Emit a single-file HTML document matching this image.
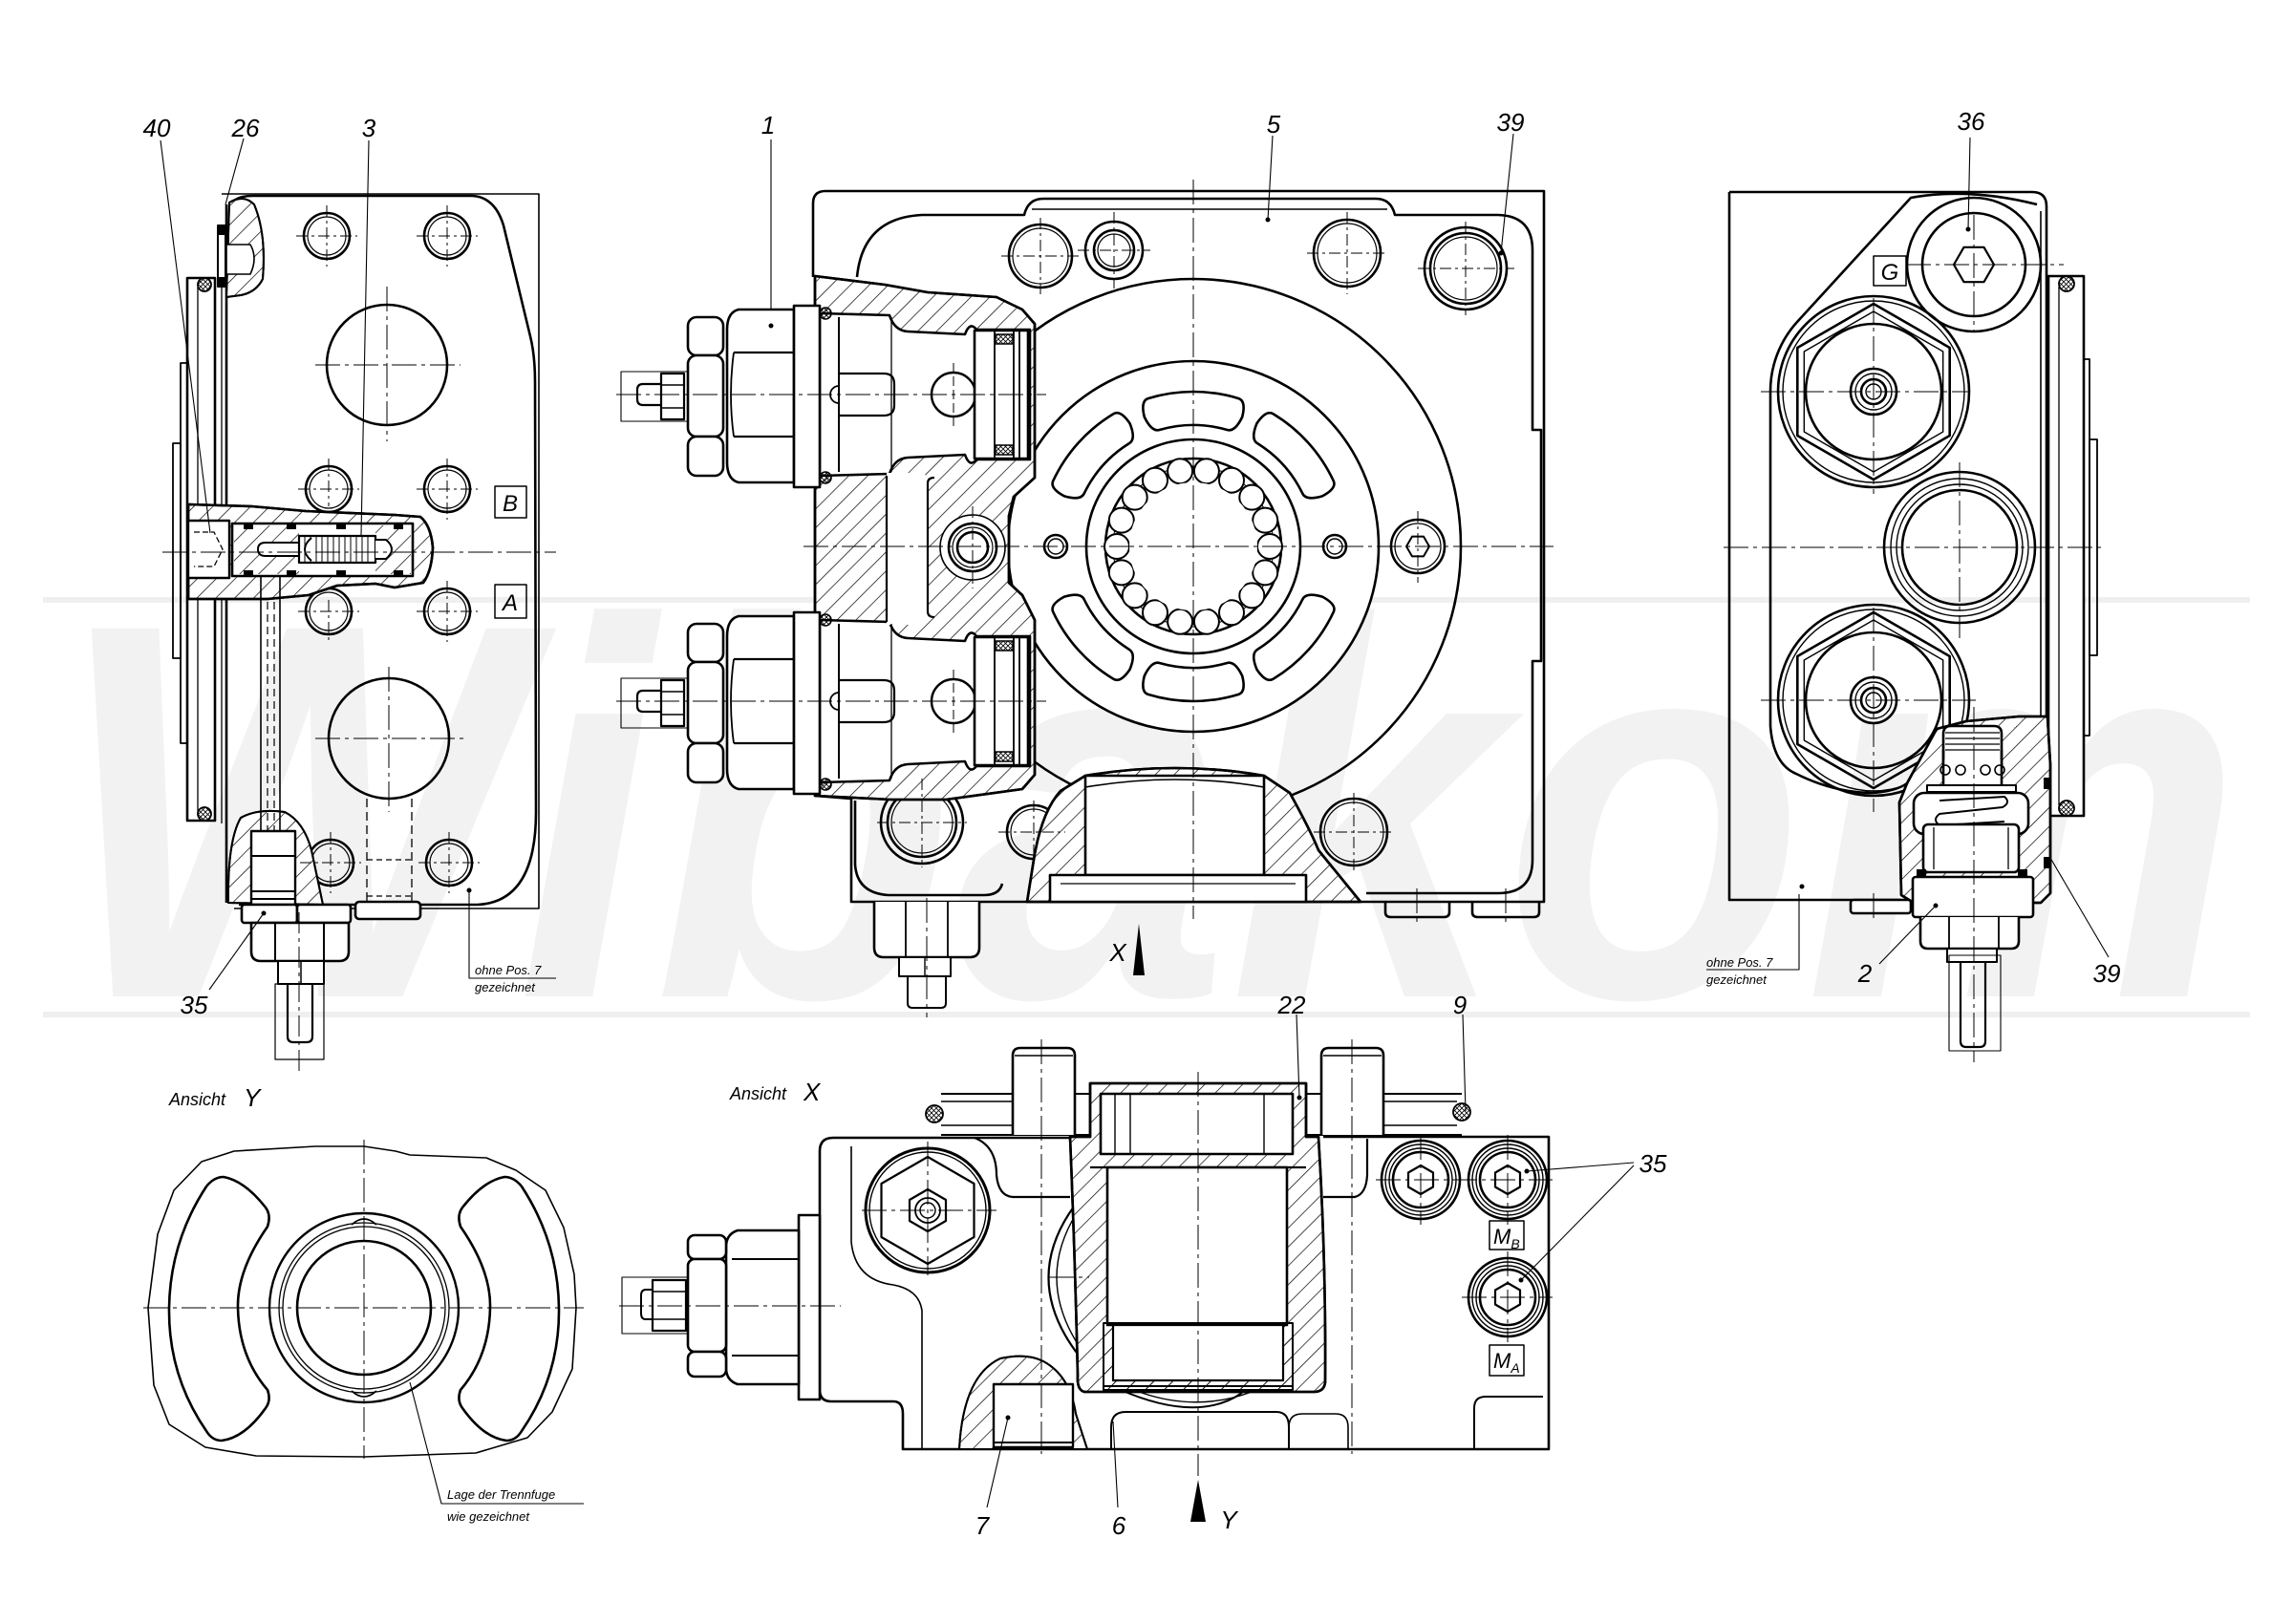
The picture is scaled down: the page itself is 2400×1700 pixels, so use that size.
<!DOCTYPE html>
<html><head><meta charset="utf-8"><style>
html,body{margin:0;padding:0;background:#fff;}
svg{display:block;}
text{font-family:"Liberation Sans",sans-serif;font-style:italic;fill:#000;stroke:none;}
.l{font-size:26px;}
.s{font-size:13px;}
</style></head><body>
<svg width="2400" height="1700" viewBox="0 0 2400 1700" xmlns="http://www.w3.org/2000/svg">
<defs>
<pattern id="h" patternUnits="userSpaceOnUse" width="14" height="14" patternTransform="rotate(45)"><line x1="0" y1="0" x2="0" y2="14" stroke="#000" stroke-width="1.4"/></pattern>
<pattern id="x" patternUnits="userSpaceOnUse" width="5" height="5"><path d="M0,0 L5,5 M5,0 L0,5" stroke="#000" stroke-width="0.8"/></pattern>
<g id="valve" fill="none" stroke="#000" stroke-linejoin="round">
<rect x="650" y="389" width="70" height="52" stroke-width="1.1"/>
<path d="M692,402 H673 Q667,402 667,408 V418 Q667,424 673,424 H692" stroke-width="2.2"/>
<rect x="692" y="391" width="24" height="48" fill="#fff" stroke-width="2.2"/>
<path d="M692,403 H716 M692,427 H716" stroke-width="1.6"/>
<rect x="720" y="332" width="37" height="40" rx="9" fill="#fff" stroke-width="2.6"/>
<rect x="720" y="372" width="37" height="85" rx="9" fill="#fff" stroke-width="2.6"/>
<rect x="720" y="457" width="37" height="41" rx="9" fill="#fff" stroke-width="2.6"/>
<path d="M831,324 H773 Q761,327 761,345 V484 Q761,502 773,505 H831 Z" fill="#fff" stroke-width="2.6"/>
<path d="M768,369 H831 M768,457 H831" stroke-width="2.2"/>
<path d="M768,369 Q762,413 768,457" stroke-width="1.8"/>
<rect x="831" y="320" width="27" height="190" fill="#fff" stroke-width="2.6"/>
<circle cx="864" cy="328" r="6" fill="url(#x)" stroke-width="1.6"/>
<circle cx="864" cy="500" r="6" fill="url(#x)" stroke-width="1.6"/>
<line x1="878" y1="332" x2="878" y2="494" stroke-width="2"/>
<path d="M878,391 H925 Q936,391 936,402 V424 Q936,435 925,435 H878" stroke-width="2.2"/>
<path d="M878,404 A9,9 0 0 0 878,422" stroke-width="1.8"/>
<line x1="933" y1="332" x2="933" y2="494" stroke-width="1.3"/>
<circle cx="998" cy="413" r="23" stroke-width="2.4"/>
<rect x="1020" y="346" width="56" height="134" fill="#fff" stroke-width="2.6"/>
<path d="M1041,346 V480 M1061,346 V480 M1067,346 V480" stroke-width="1.8"/>
<rect x="1042" y="350" width="18" height="10" fill="url(#x)" stroke-width="1.4"/>
<rect x="1042" y="466" width="18" height="10" fill="url(#x)" stroke-width="1.4"/>
<line x1="645" y1="413" x2="1095" y2="413" stroke-width="1" stroke-dasharray="26 5 4 5"/>
<line x1="998" y1="380" x2="998" y2="448" stroke-width="1" stroke-dasharray="10 4"/>
</g>
<path id="cav" d="M858,328 L931,330 Q936,346 950,347 L1010,350 Q1015,336 1022,345 L1078,345 L1078,481 L1022,481 Q1015,490 1010,476 L950,479 Q936,480 931,496 L858,498 Z"/>
<path id="kid" d="M1201.6,417.1 A162,162 0 0 1 1296.4,417.1 Q1304.4,419.8 1300.2,436.5 Q1292.4,452.7 1284,449.9 A127,127 0 0 0 1214,449.9 Q1205.6,452.7 1197.8,436.5 Q1193.6,419.8 1201.6,417.1 Z"/>
</defs>
<rect width="2400" height="1700" fill="#fff"/>

<!-- watermark -->
<line x1="45" y1="628" x2="2355" y2="628" stroke="#efefef" stroke-width="6"/>
<line x1="45" y1="1062" x2="2355" y2="1062" stroke="#efefef" stroke-width="6"/>
<text x="58" y="1043" font-size="560" font-weight="bold" textLength="2290" lengthAdjust="spacingAndGlyphs" style="fill:#f2f2f2">Wibakom</text>

<!-- ================= LEFT VIEW ================= -->
<g fill="none" stroke="#000" stroke-width="2.6" stroke-linejoin="round">
<path d="M232,203 H564 V951 H245" stroke-width="1.6"/>
<path d="M240,216 Q246,205 264,205 L494,205 Q518,206 527,236 L555,352 Q560,372 560,400 L561,850 Q561,944 500,947 L250,947"/>
<line x1="237" y1="214" x2="237" y2="945"/>
<line x1="232" y1="290" x2="232" y2="862" stroke-width="1.3"/>
<rect x="196" y="291" width="29" height="568" fill="#fff"/>
<line x1="207" y1="300" x2="207" y2="850" stroke-width="1.3"/>
<rect x="189" y="380" width="7" height="398" stroke-width="1.8"/>
<rect x="181" y="464" width="8" height="225" stroke-width="1.8"/>
<circle cx="214" cy="298" r="7" fill="url(#x)" stroke-width="1.8"/>
<circle cx="214" cy="852" r="7" fill="url(#x)" stroke-width="1.8"/>
<path d="M240,212 Q255,203 266,214 Q279,245 275,292 Q268,306 252,309 L237,311 Z" fill="#fff" stroke-width="2"/>
<path d="M240,212 Q255,203 266,214 Q279,245 275,292 Q268,306 252,309 L237,311 Z" fill="url(#h)" stroke-width="2"/>
<path d="M237,256 L262,256 Q270,270 262,287 L237,287 Z" fill="#fff" stroke-width="1.6"/>
<rect x="228" y="236" width="8" height="64" fill="#fff" stroke-width="2"/>
<rect x="228" y="236" width="8" height="10" fill="#000" stroke="none"/>
<rect x="228" y="290" width="8" height="10" fill="#000" stroke="none"/>
<circle cx="342" cy="247" r="24"/><circle cx="342" cy="247" r="20" stroke-width="1.2"/>
<circle cx="468" cy="247" r="24"/><circle cx="468" cy="247" r="20" stroke-width="1.2"/>
<circle cx="344" cy="512" r="24"/><circle cx="344" cy="512" r="20" stroke-width="1.2"/>
<circle cx="468" cy="512" r="24"/><circle cx="468" cy="512" r="20" stroke-width="1.2"/>
<circle cx="344" cy="640" r="24"/><circle cx="344" cy="640" r="20" stroke-width="1.2"/>
<circle cx="468" cy="640" r="24"/><circle cx="468" cy="640" r="20" stroke-width="1.2"/>
<circle cx="346" cy="903" r="24"/><circle cx="346" cy="903" r="20" stroke-width="1.2"/>
<circle cx="470" cy="903" r="24"/><circle cx="470" cy="903" r="20" stroke-width="1.2"/>
<circle cx="405" cy="382" r="63"/>
<circle cx="407" cy="773" r="63"/>
<path d="M384,836 V944 M431,836 V944" stroke-width="1.3" stroke-dasharray="9 5"/>
<path d="M384,900 H431 M384,938 H431" stroke-width="1.3" stroke-dasharray="6 4"/>
<path d="M239,945 Q238,880 252,856 Q270,846 298,850 Q318,860 326,890 L338,947 Z" fill="#fff" stroke-width="2"/>
<path d="M239,945 Q238,880 252,856 Q270,846 298,850 Q318,860 326,890 L338,947 Z" fill="url(#h)" stroke-width="2"/>
<rect x="263" y="870" width="46" height="77" fill="#fff" stroke-width="2.4"/>
<path d="M263,896 H309 M263,933 H309 M263,941 H309" stroke-width="2"/>
<rect x="253" y="947" width="58" height="19" rx="3" fill="#fff"/>
<rect x="311" y="947" width="56" height="19" rx="3" fill="#fff"/>
<rect x="372" y="944" width="68" height="18" rx="4" fill="#fff"/>
<path d="M263,966 H365 V996 Q365,1006 355,1006 H273 Q263,1006 263,996 Z" fill="#fff"/>
<path d="M288,966 V1006 M339,966 V1006" stroke-width="2"/>
<rect x="291" y="1006" width="48" height="24" fill="#fff" stroke-width="2"/>
<path d="M315,1006 V1030" stroke-width="1.5"/>
<rect x="288" y="1030" width="51" height="79" stroke-width="1.2"/>
<path d="M301,1030 V1085 Q301,1091 307,1091 H321 Q327,1091 327,1085 V1030" stroke-width="2.2"/>
<line x1="313" y1="955" x2="313" y2="1122" stroke-width="1" stroke-dasharray="22 5 4 5"/>
<path d="M197,528 L263,530 L320,535 L413,539 L440,541 Q451,550 453,573 Q452,598 443,610 L413,615 L393,611 L353,613 L323,623 L280,627 L197,627 Z" fill="#fff"/>
<path d="M197,528 L263,530 L320,535 L413,539 L440,541 Q451,550 453,573 Q452,598 443,610 L413,615 L393,611 L353,613 L323,623 L280,627 L197,627 Z" fill="url(#h)"/>
<rect x="243" y="548" width="189" height="55" fill="#fff"/>
<rect x="245" y="550" width="68" height="51" fill="url(#h)" stroke="none"/>
<rect x="393" y="550" width="37" height="51" fill="url(#h)" stroke="none"/>
<path d="M313,568 H278 Q270,568 270,575 Q270,582 278,582 H313" fill="#fff" stroke-width="2"/>
<rect x="313" y="561" width="80" height="28" fill="#fff" stroke-width="2.2"/>
<path d="M319,561 V589 M325,561 V589 M331,561 V589 M337,561 V589 M343,561 V589 M349,561 V589 M355,561 V589 M361,561 V589 M367,561 V589 M373,561 V589 M379,561 V589 M385,561 V589" stroke-width="1"/>
<path d="M326,563 Q312,575 326,587" fill="#fff" stroke-width="2"/>
<path d="M393,565 H404 Q416,575 404,585 H393" fill="#fff" stroke-width="2"/>
<rect x="255" y="549" width="10" height="5" fill="#000" stroke="none"/>
<rect x="300" y="549" width="10" height="5" fill="#000" stroke="none"/>
<rect x="352" y="549" width="10" height="5" fill="#000" stroke="none"/>
<rect x="412" y="549" width="10" height="5" fill="#000" stroke="none"/>
<rect x="255" y="597" width="10" height="5" fill="#000" stroke="none"/>
<rect x="300" y="597" width="10" height="5" fill="#000" stroke="none"/>
<rect x="352" y="597" width="10" height="5" fill="#000" stroke="none"/>
<rect x="412" y="597" width="10" height="5" fill="#000" stroke="none"/>
<rect x="197" y="545" width="43" height="60" fill="#fff" stroke-width="2.4"/>
<path d="M203,557 H224 L233,575 L224,593 H203" stroke-width="1.3" stroke-dasharray="6 3"/>
<line x1="273" y1="603" x2="273" y2="870" stroke-width="1.6"/>
<line x1="293" y1="603" x2="293" y2="870" stroke-width="1.6"/>
<line x1="280" y1="630" x2="280" y2="870" stroke-width="1.2" stroke-dasharray="8 5"/>
<line x1="287" y1="630" x2="287" y2="870" stroke-width="1.2" stroke-dasharray="8 5"/>
<rect x="518" y="509" width="33" height="33" stroke-width="1.5"/>
<rect x="518" y="612" width="33" height="35" stroke-width="1.5"/>
<g stroke-width="1" stroke-dasharray="26 5 4 5">
<line x1="170" y1="578" x2="582" y2="578"/>
<line x1="405" y1="300" x2="405" y2="462"/><line x1="330" y1="382" x2="482" y2="382"/>
<line x1="407" y1="698" x2="407" y2="850"/><line x1="330" y1="773" x2="486" y2="773"/>
</g>
<g stroke-width="1" stroke-dasharray="12 4 3 4">
<path d="M310,247 H374 M342,215 V279 M436,247 H500 M468,215 V279"/>
<path d="M312,512 H376 M344,480 V530 M436,512 H500 M468,480 V544"/>
<path d="M312,640 H376 M344,628 V672 M436,640 H500 M468,608 V672"/>
<path d="M314,903 H378 M346,871 V935 M438,903 H502 M470,871 V935"/>
</g>
<g stroke-width="1.1">
<path d="M168,147 L220,558"/>
<path d="M255,145 L236,214"/>
<path d="M386,147 L378,560"/>
<path d="M219,1036 L276,956"/>
<path d="M491,932 V1024 H582"/>
</g>
<circle cx="276" cy="956" r="2.5" fill="#000" stroke="none"/>
<circle cx="491" cy="932" r="2.5" fill="#000" stroke="none"/>
</g>
<text class="l" x="164" y="143" text-anchor="middle">40</text>
<text class="l" x="257" y="143" text-anchor="middle">26</text>
<text class="l" x="386" y="143" text-anchor="middle">3</text>
<text class="l" x="203" y="1061" text-anchor="middle">35</text>
<text x="534" y="535" text-anchor="middle" font-size="24">B</text>
<text x="534" y="639" text-anchor="middle" font-size="24">A</text>
<text class="s" x="497" y="1020">ohne  Pos. 7</text>
<text class="s" x="497" y="1038">gezeichnet</text>

<!-- ================= CENTER VIEW ================= -->
<g fill="none" stroke="#000" stroke-width="2.6" stroke-linejoin="round">
<path d="M851,290 V213 Q851,200 864,200 H1616 V944 H891 V836 L853,833"/>
<path d="M897,290 Q903,228 965,225 L1072,225 Q1076,208 1092,208 H1440 Q1456,208 1460,225 L1568,225 Q1604,226 1604,262 V450 H1613 V692 H1604 V900 Q1604,935 1568,935 H1430"/>
<line x1="1080" y1="219" x2="1452" y2="219" stroke-width="1.5"/>
<path d="M895,838 V905 Q897,935 930,937 H1030 Q1046,937 1049,925"/>
<circle cx="1089" cy="268" r="33"/><circle cx="1089" cy="268" r="29" stroke-width="1.2"/>
<circle cx="1166" cy="262" r="30"/><circle cx="1166" cy="262" r="21"/><circle cx="1166" cy="262" r="17" stroke-width="1.2"/>
<circle cx="1410" cy="265" r="35"/><circle cx="1410" cy="265" r="31" stroke-width="1.2"/>
<circle cx="1534" cy="281" r="43"/><circle cx="1534" cy="281" r="37"/><circle cx="1534" cy="281" r="33" stroke-width="1.2"/>
<circle cx="965" cy="861" r="43"/><circle cx="965" cy="861" r="36"/><circle cx="965" cy="861" r="32" stroke-width="1.2"/>
<circle cx="1082" cy="871" r="28"/><circle cx="1082" cy="871" r="24" stroke-width="1.2"/>
<circle cx="1417" cy="871" r="35"/><circle cx="1417" cy="871" r="31" stroke-width="1.2"/>
<circle cx="1249" cy="572" r="280"/>
<circle cx="1249" cy="572" r="194" fill="#fff"/>
<g stroke-width="2.6">
<use href="#kid"/>
<use href="#kid" transform="rotate(48 1249 572)"/>
<use href="#kid" transform="rotate(-48 1249 572)"/>
<use href="#kid" transform="rotate(180 1249 572)"/>
<use href="#kid" transform="rotate(132 1249 572)"/>
<use href="#kid" transform="rotate(-132 1249 572)"/>
</g>
<circle cx="1249" cy="572" r="112"/>
<circle cx="1249" cy="572" r="92"/>
<circle cx="1249" cy="572" r="84" stroke-width="1"/>
<g stroke-width="2" fill="#fff">
<circle cx="1329" cy="572" r="13"/><circle cx="1324.2" cy="599.4" r="13"/><circle cx="1310.3" cy="623.4" r="13"/>
<circle cx="1289" cy="641.3" r="13"/><circle cx="1262.9" cy="650.8" r="13"/><circle cx="1235.1" cy="650.8" r="13"/>
<circle cx="1209" cy="641.3" r="13"/><circle cx="1187.7" cy="623.4" r="13"/><circle cx="1173.8" cy="599.4" r="13"/>
<circle cx="1169" cy="572" r="13"/><circle cx="1173.8" cy="544.6" r="13"/><circle cx="1187.7" cy="520.6" r="13"/>
<circle cx="1209" cy="502.7" r="13"/><circle cx="1235.1" cy="493.2" r="13"/><circle cx="1262.9" cy="493.2" r="13"/>
<circle cx="1289" cy="502.7" r="13"/><circle cx="1310.3" cy="520.6" r="13"/><circle cx="1324.2" cy="544.6" r="13"/>
</g>
<circle cx="1249" cy="572" r="67" fill="#fff" stroke="none"/>
<circle cx="1105" cy="572" r="12"/><circle cx="1105" cy="572" r="8" stroke-width="1.4"/>
<circle cx="1397" cy="572" r="12"/><circle cx="1397" cy="572" r="8" stroke-width="1.4"/>
<circle cx="1484" cy="572" r="28"/><circle cx="1484" cy="572" r="24" stroke-width="1.3"/>
<polygon points="1496,572 1490,582.4 1478,582.4 1472,572 1478,561.6 1490,561.6" stroke-width="2"/>
<path d="M1136,812 Q1230,796 1323,812 L1350,830 Q1372,870 1380,890 L1424,944 H1075 L1082,900 Q1090,850 1110,828 Z" fill="#fff"/>
<path d="M1136,812 Q1230,796 1323,812 L1350,830 Q1372,870 1380,890 L1424,944 H1075 L1082,900 Q1090,850 1110,828 Z" fill="url(#h)"/>
<rect x="1136" y="812" width="187" height="104" fill="#fff"/>
<path d="M1136,824 Q1230,808 1323,824" stroke-width="1.6"/>
<rect x="1099" y="916" width="268" height="28" fill="#fff"/>
<path d="M1110,925 H1356" stroke-width="1.3"/>
<path d="M1450,944 V955 Q1450,960 1456,960 H1511 Q1517,960 1517,955 V944"/>
<path d="M1541,944 V955 Q1541,960 1547,960 H1605 Q1611,960 1611,955 V944"/>
<path d="M853,289 L926,298 L971,306 L1043,311 L1070,324 L1083,339 L1083,500 L1061,520 L1056,540 L1056,610 L1070,623 L1083,649 L1083,811 L1070,826 L990,837 L933,837 L853,833 Z" fill="#fff"/>
<path d="M853,289 L926,298 L971,306 L1043,311 L1070,324 L1083,339 L1083,500 L1061,520 L1056,540 L1056,610 L1070,623 L1083,649 L1083,811 L1070,826 L990,837 L933,837 L853,833 Z" fill="url(#h)"/>
<use href="#cav" fill="#fff"/>
<use href="#cav" fill="#fff" transform="translate(0,321)"/>
<path d="M928,495 V654 H965 Q971,654 971,640 V512 Q971,495 965,495 Z" fill="#fff" stroke="none"/>
<path d="M928,498 V651 M971,506 Q971,500 978,500 M971,506 V640 Q971,646 978,646" stroke-width="2.2"/>
<circle cx="1018" cy="573" r="34" fill="#fff" stroke-width="1.6"/>
<circle cx="1018" cy="573" r="25"/><circle cx="1018" cy="573" r="21" stroke-width="1.2"/><circle cx="1018" cy="573" r="16"/>
<path d="M915,944 V992 Q915,1002 925,1002 H1015 Q1025,1002 1025,992 V944" fill="#fff"/>
<path d="M948,944 V1002 M992,944 V1002" stroke-width="1.8"/>
<rect x="941" y="1002" width="54" height="20" fill="#fff" stroke-width="2"/>
<path d="M968,1002 V1022" stroke-width="1.4"/>
<path d="M950,1022 V1050 Q950,1055 955,1055 H985 Q990,1055 990,1050 V1022" stroke-width="2"/>
<g stroke-width="1" stroke-dasharray="26 5 4 5">
<line x1="841" y1="572" x2="1626" y2="572"/>
<line x1="1249" y1="188" x2="1249" y2="962"/>
<line x1="970" y1="940" x2="970" y2="1065"/>
<line x1="1483" y1="930" x2="1483" y2="968"/><line x1="1576" y1="930" x2="1576" y2="968"/>
</g>
<g stroke-width="1" stroke-dasharray="12 4 3 4">
<path d="M1048,268 H1130 M1089,228 V308"/>
<path d="M1128,262 H1204 M1166,222 V302"/>
<path d="M1368,265 H1452 M1410,222 V308"/>
<path d="M1484,281 H1585 M1534,232 V330"/>
<path d="M918,861 H1012 M965,815 V908"/>
<path d="M1045,871 H1115 M1082,838 V906"/>
<path d="M1375,871 H1459 M1417,830 V912"/>
<path d="M1484,535 V610 M1018,530 V616"/>
</g>
<path d="M807,146 V341 M1332,142 L1327,230 M1584,140 L1571,265" stroke-width="1.1"/>
</g>
<use href="#valve"/>
<use href="#valve" transform="translate(0,321)"/>
<circle cx="807" cy="341" r="2.5"/>
<circle cx="1327" cy="230" r="2.5"/>
<circle cx="1571" cy="265" r="2.5"/>
<path d="M1192,967 L1198,1021 L1186,1021 Z" fill="#000"/>
<text class="l" x="1170" y="1006" text-anchor="middle">X</text>
<text class="l" x="804" y="140" text-anchor="middle">1</text>
<text class="l" x="1333" y="139" text-anchor="middle">5</text>
<text class="l" x="1581" y="137" text-anchor="middle">39</text>

<!-- ================= RIGHT VIEW ================= -->
<g fill="none" stroke="#000" stroke-width="2.6" stroke-linejoin="round">
<path d="M1810,201 H2127 Q2142,201 2142,216 V820"/>
<path d="M1810,201 V942 H1990" />
<line x1="2136" y1="221" x2="2136" y2="820" stroke-width="1.6"/>
<rect x="2144" y="289" width="37" height="565" fill="#fff"/>
<line x1="2155" y1="300" x2="2155" y2="843" stroke-width="1.3"/>
<circle cx="2163" cy="297" r="8" fill="url(#x)" stroke-width="1.8"/>
<circle cx="2163" cy="846" r="8" fill="url(#x)" stroke-width="1.8"/>
<rect x="2181" y="376" width="6" height="394" stroke-width="1.8"/>
<rect x="2187" y="460" width="8" height="226" stroke-width="1.8"/>
<path d="M1853,760 V410 A108,108 0 0 1 1881,337 L2000,207 Q2060,196 2132,214"/>
<path d="M1853,760 Q1856,800 1880,810 Q1920,830 1961,830 Q1985,828 1996,820"/>
<circle cx="2066" cy="277" r="70"/>
<circle cx="2066" cy="277" r="54"/>
<polygon points="2087,277 2076.5,295.2 2055.5,295.2 2045,277 2055.5,258.8 2076.5,258.8" stroke-width="2.2"/>
<rect x="1961" y="268" width="34" height="31" fill="#fff" stroke-width="1.5"/>
<circle cx="1961" cy="410" r="100"/>
<circle cx="1961" cy="410" r="95" stroke-width="1.4"/>
<polygon points="1961,318 2040.7,364 2040.7,456 1961,502 1881.3,456 1881.3,364"/>
<polygon points="1961,326 2033.7,368 2033.7,452 1961,494 1888.3,452 1888.3,368" stroke-width="1.4"/>
<circle cx="1961" cy="410" r="71"/>
<circle cx="1961" cy="410" r="24"/><circle cx="1961" cy="410" r="19" stroke-width="1.4"/><circle cx="1961" cy="410" r="13"/><circle cx="1961" cy="410" r="8" stroke-width="1.4"/>
<circle cx="1961" cy="733" r="100"/>
<circle cx="1961" cy="733" r="95" stroke-width="1.4"/>
<polygon points="1961,641 2040.7,687 2040.7,779 1961,825 1881.3,779 1881.3,687"/>
<polygon points="1961,649 2033.7,691 2033.7,775 1961,817 1888.3,775 1888.3,691" stroke-width="1.4"/>
<circle cx="1961" cy="733" r="71"/>
<circle cx="1961" cy="733" r="24"/><circle cx="1961" cy="733" r="19" stroke-width="1.4"/><circle cx="1961" cy="733" r="13"/><circle cx="1961" cy="733" r="8" stroke-width="1.4"/>
<circle cx="2051" cy="573" r="79"/>
<circle cx="2051" cy="573" r="72" stroke-width="1.4"/>
<circle cx="2051" cy="573" r="66" stroke-width="1.4"/>
<circle cx="2051" cy="573" r="60"/>
<path d="M1996,820 L2027,763 L2058,755 L2113,750 L2143,750 L2146,800 L2146,935 L2136,945 L2003,945 L1990,937 L1988,840 Z" fill="#fff"/>
<path d="M1996,820 L2027,763 L2058,755 L2113,750 L2143,750 L2146,800 L2146,935 L2136,945 L2003,945 L1990,937 L1988,840 Z" fill="url(#h)"/>
<path d="M2034,803 V768 Q2034,760 2042,760 H2087 Q2095,760 2095,768 V803" fill="#fff"/>
<path d="M2036,767 H2093 M2036,773 H2093 M2036,779 H2093 M2036,785 H2093" stroke-width="1.3"/>
<rect x="2034" y="795" width="61" height="28" fill="#fff" stroke="none"/>
<path d="M2034,785 V823 M2095,785 V823" />
<circle cx="2036" cy="806" r="5" stroke-width="1.6"/><circle cx="2052" cy="806" r="5" stroke-width="1.6"/>
<circle cx="2078" cy="806" r="5" stroke-width="1.6"/><circle cx="2093" cy="806" r="5" stroke-width="1.6"/>
<rect x="2017" y="822" width="93" height="7" fill="#fff" stroke-width="2"/>
<rect x="2003" y="830" width="120" height="43" rx="11" fill="#fff"/>
<path d="M2030,838 L2098,834 Q2105,840 2096,845 L2030,852 Q2022,858 2030,864 L2098,860" stroke-width="2"/>
<rect x="2013" y="863" width="100" height="50" rx="5" fill="#fff"/>
<path d="M2024,866 V910 M2102,866 V910" stroke-width="1.3"/>
<rect x="2006" y="910" width="10" height="8" fill="#000" stroke="none"/>
<rect x="2112" y="910" width="10" height="8" fill="#000" stroke="none"/>
<rect x="2002" y="918" width="126" height="42" rx="3" fill="#fff"/>
<path d="M2010,960 V985 Q2010,993 2018,993 H2105 Q2113,993 2113,985 V960" fill="#fff"/>
<path d="M2040,960 V993 M2092,960 V993" stroke-width="1.8"/>
<rect x="2038" y="993" width="52" height="14" fill="#fff" stroke-width="2"/>
<rect x="2040" y="1000" width="54" height="100" stroke-width="1.1"/>
<path d="M2052,1007 V1090 Q2052,1096 2058,1096 H2072 Q2078,1096 2078,1090 V1007" stroke-width="2.2"/>
<rect x="2139" y="814" width="6" height="12" fill="#000" stroke="none"/>
<rect x="2139" y="897" width="6" height="12" fill="#000" stroke="none"/>
<rect x="1937" y="942" width="63" height="14" rx="3" fill="#fff"/>
<g stroke-width="1" stroke-dasharray="26 5 4 5">
<line x1="1804" y1="573" x2="2199" y2="573"/>
<line x1="1843" y1="410" x2="2062" y2="410"/>
<line x1="1843" y1="733" x2="2068" y2="733"/>
<line x1="1995" y1="277" x2="2160" y2="277"/>
<line x1="1961" y1="312" x2="1961" y2="517"/>
<line x1="1961" y1="636" x2="1961" y2="850"/>
<line x1="2051" y1="484" x2="2051" y2="668"/>
<line x1="2066" y1="225" x2="2066" y2="346"/>
<line x1="2066" y1="740" x2="2066" y2="1112"/>
<line x1="1961" y1="935" x2="1961" y2="965"/>
</g>
<path d="M2062,144 L2060,240 M1967,1009 L2026,948 M2207,1002 L2146,898 M1786,1015 H1883 V936" stroke-width="1.1"/>
</g>
<circle cx="2060" cy="240" r="2.5"/>
<circle cx="2026" cy="948" r="2.5"/>
<circle cx="1886" cy="928" r="2.5"/>
<text x="1978" y="293" text-anchor="middle" font-size="24">G</text>
<text class="l" x="2063" y="136" text-anchor="middle">36</text>
<text class="l" x="1952" y="1028" text-anchor="middle">2</text>
<text class="l" x="2205" y="1028" text-anchor="middle">39</text>
<text class="s" x="1786" y="1012">ohne  Pos. 7</text>
<text class="s" x="1786" y="1030">gezeichnet</text>

<!-- ================= ANSICHT Y ================= -->
<text x="177" y="1157" font-size="18">Ansicht</text>
<text x="255" y="1158" font-size="26">Y</text>
<g fill="none" stroke="#000" stroke-width="2.6" stroke-linejoin="round">
<path d="M381,1200 L414,1205 L429,1209 L509,1212 L540,1225 L571,1246 L590,1285 L601,1334 L603,1369 L599,1433 L578,1478 L552,1505 L498,1521 L381,1525 L268,1524 L215,1515 L177,1491 L161,1450 L155,1369 L165,1292 L182,1246 L211,1216 L245,1205 L330,1200 Z" stroke-width="1.6"/>
<path d="M234,1232 Q256,1236 278,1264 Q284,1272 280,1284 Q248,1330 249,1369 Q250,1420 280,1455 Q284,1466 278,1474 Q256,1505 232,1508 Q222,1508 216,1498 Q176,1440 177,1369 Q178,1300 216,1242 Q224,1232 234,1232 Z"/>
<path d="M528,1232 Q506,1236 484,1264 Q478,1272 482,1284 Q514,1330 513,1369 Q512,1420 482,1455 Q478,1466 484,1474 Q506,1505 530,1508 Q540,1508 546,1498 Q586,1440 585,1369 Q584,1300 546,1242 Q538,1232 528,1232 Z"/>
<circle cx="381" cy="1369" r="99" stroke-width="2.4"/>
<circle cx="381" cy="1369" r="89" stroke-width="1.3"/>
<circle cx="381" cy="1369" r="85" stroke-width="1.3"/>
<circle cx="381" cy="1369" r="70"/>
<path d="M368,1282 Q381,1270 394,1282 M368,1456 Q381,1468 394,1456" stroke-width="1.6"/>
<g stroke-width="1" stroke-dasharray="26 5 4 5">
<line x1="150" y1="1369" x2="611" y2="1369"/>
<line x1="381" y1="1193" x2="381" y2="1527"/>
</g>
<path d="M429,1447 L462,1574 H611" stroke-width="1.1"/>
</g>
<text class="s" x="468" y="1569">Lage  der  Trennfuge</text>
<text class="s" x="468" y="1592">wie   gezeichnet</text>

<!-- ================= ANSICHT X ================= -->
<text x="764" y="1151" font-size="18">Ansicht</text>
<text x="841" y="1152" font-size="26">X</text>
<g fill="none" stroke="#000" stroke-width="2.6" stroke-linejoin="round">
<path d="M985,1145 H1530 M985,1188 H1530" stroke-width="2"/>
<path d="M985,1153 H1060 M985,1178 H1060 M1447,1153 H1525 M1447,1178 H1525" stroke-width="1.6"/>
<circle cx="978" cy="1166" r="9" fill="url(#x)" stroke-width="1.8"/>
<circle cx="1530" cy="1164" r="9" fill="url(#x)" stroke-width="1.8"/>
<!-- body -->
<path d="M858,1205 Q858,1191 872,1191 L1621,1190 V1517 H945 V1480 Q945,1467 935,1467 H870 Q858,1467 858,1455 Z" fill="#fff" stroke="none"/>
<path d="M858,1455 V1205 Q858,1191 872,1191 H1120 M1385,1190 H1621 V1517 H945 V1480 Q945,1467 935,1467 H870 Q858,1467 858,1455"/>
<path d="M1020,1191 Q1043,1200 1043,1230 Q1045,1252 1060,1253 H1120" stroke-width="2.2"/>
<path d="M1385,1253 H1418 Q1430,1250 1431,1230 V1192" stroke-width="2.2"/>
<path d="M891,1200 V1300 Q895,1340 935,1345 Q962,1350 965,1372 V1517" stroke-width="1.6"/>
<rect x="836" y="1272" width="22" height="193" fill="#fff"/>
<path d="M836,1288 H772 Q760,1292 760,1305 V1432 Q760,1445 772,1449 H836 Z" fill="#fff"/>
<path d="M766,1318 H836 M766,1419 H836" stroke-width="2"/>
<rect x="720" y="1293" width="40" height="25" rx="7" fill="#fff"/>
<rect x="720" y="1318" width="40" height="97" rx="7" fill="#fff"/>
<rect x="720" y="1415" width="40" height="26" rx="7" fill="#fff"/>
<rect x="651" y="1337" width="69" height="59" stroke-width="1.1"/>
<rect x="683" y="1340" width="35" height="53" fill="#fff" stroke-width="2.2"/>
<path d="M683,1352 H718 M683,1381 H718" stroke-width="1.5"/>
<path d="M683,1350 H676 Q671,1350 671,1356 V1375 Q671,1381 676,1381 H683" stroke-width="2"/>
<circle cx="971" cy="1267" r="65" fill="#fff" stroke-width="3"/>
<circle cx="971" cy="1267" r="61" stroke-width="1.4"/>
<polygon points="971,1211 1019.5,1239 1019.5,1295 971,1323 922.5,1295 922.5,1239" stroke-width="2.2"/>
<polygon points="971,1245 990,1256 990,1278 971,1289 952,1278 952,1256" stroke-width="2.2"/>
<circle cx="971" cy="1267" r="13" stroke-width="1.8"/>
<circle cx="971" cy="1267" r="8" stroke-width="1.4"/>
<path d="M1130,1255 Q1065,1337 1130,1420" stroke-width="2.2"/>
<path d="M1130,1265 Q1082,1337 1130,1410" stroke-width="1.4"/>
<path d="M1060,1188 V1105 Q1060,1097 1068,1097 H1117 Q1125,1097 1125,1105 V1188" fill="#fff"/>
<path d="M1062,1105 H1123" stroke-width="1.4"/>
<path d="M1383,1188 V1105 Q1383,1097 1391,1097 H1440 Q1448,1097 1448,1105 V1188" fill="#fff"/>
<path d="M1385,1105 H1446" stroke-width="1.4"/>
<path d="M1120,1190 L1141,1190 L1141,1134 L1367,1134 L1367,1190 L1380,1190 Q1388,1320 1387,1447 Q1386,1457 1375,1457 H1135 Q1127,1455 1128,1440 Q1125,1310 1120,1190 Z" fill="#fff"/>
<path d="M1120,1190 L1141,1190 L1141,1134 L1367,1134 L1367,1190 L1380,1190 Q1388,1320 1387,1447 Q1386,1457 1375,1457 H1135 Q1127,1455 1128,1440 Q1125,1310 1120,1190 Z" fill="url(#h)"/>
<rect x="1159" y="1222" width="188" height="165" fill="#fff"/>
<rect x="1152" y="1145" width="201" height="63" fill="#fff"/>
<path d="M1141,1222 H1367" stroke-width="2.2"/>
<path d="M1167,1145 V1208 M1183,1145 V1208 M1323,1145 V1208" stroke-width="1.4"/>
<rect x="1155" y="1385" width="198" height="70" fill="url(#h)" stroke-width="2"/>
<rect x="1165" y="1387" width="178" height="58" fill="#fff" stroke-width="2.2"/>
<path d="M1155,1451 H1353" stroke-width="2"/>
<path d="M1173,1455 Q1254,1490 1300,1458" stroke-width="2"/>
<path d="M1195,1458 Q1254,1478 1310,1457" stroke-width="1.4"/>
<path d="M1004,1517 Q1008,1440 1047,1422 Q1075,1416 1092,1425 Q1120,1440 1126,1480 L1138,1517 Z" fill="#fff" stroke-width="2"/>
<path d="M1004,1517 Q1008,1440 1047,1422 Q1075,1416 1092,1425 Q1120,1440 1126,1480 L1138,1517 Z" fill="url(#h)" stroke-width="2"/>
<rect x="1040" y="1449" width="83" height="66" fill="#fff" stroke-width="2.4"/>
<path d="M1040,1510 H1123" stroke-width="2"/>
<path d="M1163,1517 V1494 Q1163,1478 1178,1478 H1336 Q1349,1478 1349,1494 V1517" stroke-width="2"/>
<path d="M1349,1517 V1494 Q1349,1480 1363,1480 H1398 Q1411,1480 1411,1494 V1517" stroke-width="1.6"/>
<path d="M1543,1517 V1474 Q1543,1462 1555,1462 H1615" stroke-width="2"/>
<circle cx="1487" cy="1235" r="41"/><circle cx="1487" cy="1235" r="37" stroke-width="1.4"/><circle cx="1487" cy="1235" r="33" stroke-width="1.4"/><circle cx="1487" cy="1235" r="29"/>
<polygon points="1487,1220 1500,1227.5 1500,1242.5 1487,1250 1474,1242.5 1474,1227.5" stroke-width="2.2"/>
<circle cx="1578" cy="1235" r="41"/><circle cx="1578" cy="1235" r="37" stroke-width="1.4"/><circle cx="1578" cy="1235" r="33" stroke-width="1.4"/><circle cx="1578" cy="1235" r="29"/>
<polygon points="1578,1220 1591,1227.5 1591,1242.5 1578,1250 1565,1242.5 1565,1227.5" stroke-width="2.2"/>
<circle cx="1578" cy="1358" r="41"/><circle cx="1578" cy="1358" r="37" stroke-width="1.4"/><circle cx="1578" cy="1358" r="33" stroke-width="1.4"/><circle cx="1578" cy="1358" r="29"/>
<polygon points="1578,1343 1591,1350.5 1591,1365.5 1578,1373 1565,1365.5 1565,1350.5" stroke-width="2.2"/>
<rect x="1559" y="1278" width="36" height="30" stroke-width="1.5"/>
<rect x="1559" y="1408" width="36" height="32" stroke-width="1.5"/>
<g stroke-width="1" stroke-dasharray="26 5 4 5">
<line x1="1254" y1="1122" x2="1254" y2="1545"/>
<line x1="1090" y1="1088" x2="1090" y2="1522"/>
<line x1="1415" y1="1088" x2="1415" y2="1522"/>
<line x1="648" y1="1367" x2="880" y2="1367"/>
<line x1="902" y1="1267" x2="1043" y2="1267"/>
<line x1="971" y1="1195" x2="971" y2="1335"/>
<line x1="1440" y1="1235" x2="1625" y2="1235"/>
<line x1="1530" y1="1358" x2="1625" y2="1358"/>
<line x1="1487" y1="1188" x2="1487" y2="1282"/>
<line x1="1578" y1="1188" x2="1578" y2="1282"/>
<line x1="1578" y1="1310" x2="1578" y2="1405"/>
<line x1="1098" y1="1337" x2="1140" y2="1337"/>
</g>
<path d="M1357,1062 L1360,1149 M1531,1062 L1534,1163 M1710,1217 L1598,1226 M1710,1220 L1592,1340 M1033,1578 L1055,1484 M1170,1578 L1165,1488" stroke-width="1.1"/>
</g>
<circle cx="1598" cy="1226" r="2.5"/>
<circle cx="1592" cy="1340" r="2.5"/>
<circle cx="1055" cy="1484" r="2.5"/>
<circle cx="1360" cy="1149" r="2.5"/>
<path d="M1254,1549 L1262,1593 L1246,1593 Z" fill="#000"/>
<text class="l" x="1286" y="1600" text-anchor="middle">Y</text>
<text x="1563" y="1302" font-size="22">M<tspan font-size="14" dy="5">B</tspan></text>
<text x="1563" y="1432" font-size="22">M<tspan font-size="14" dy="5">A</tspan></text>
<text class="l" x="1352" y="1061" text-anchor="middle">22</text>
<text class="l" x="1528" y="1061" text-anchor="middle">9</text>
<text class="l" x="1730" y="1227" text-anchor="middle">35</text>
<text class="l" x="1028" y="1606" text-anchor="middle">7</text>
<text class="l" x="1171" y="1606" text-anchor="middle">6</text>
</svg>
</body></html>
